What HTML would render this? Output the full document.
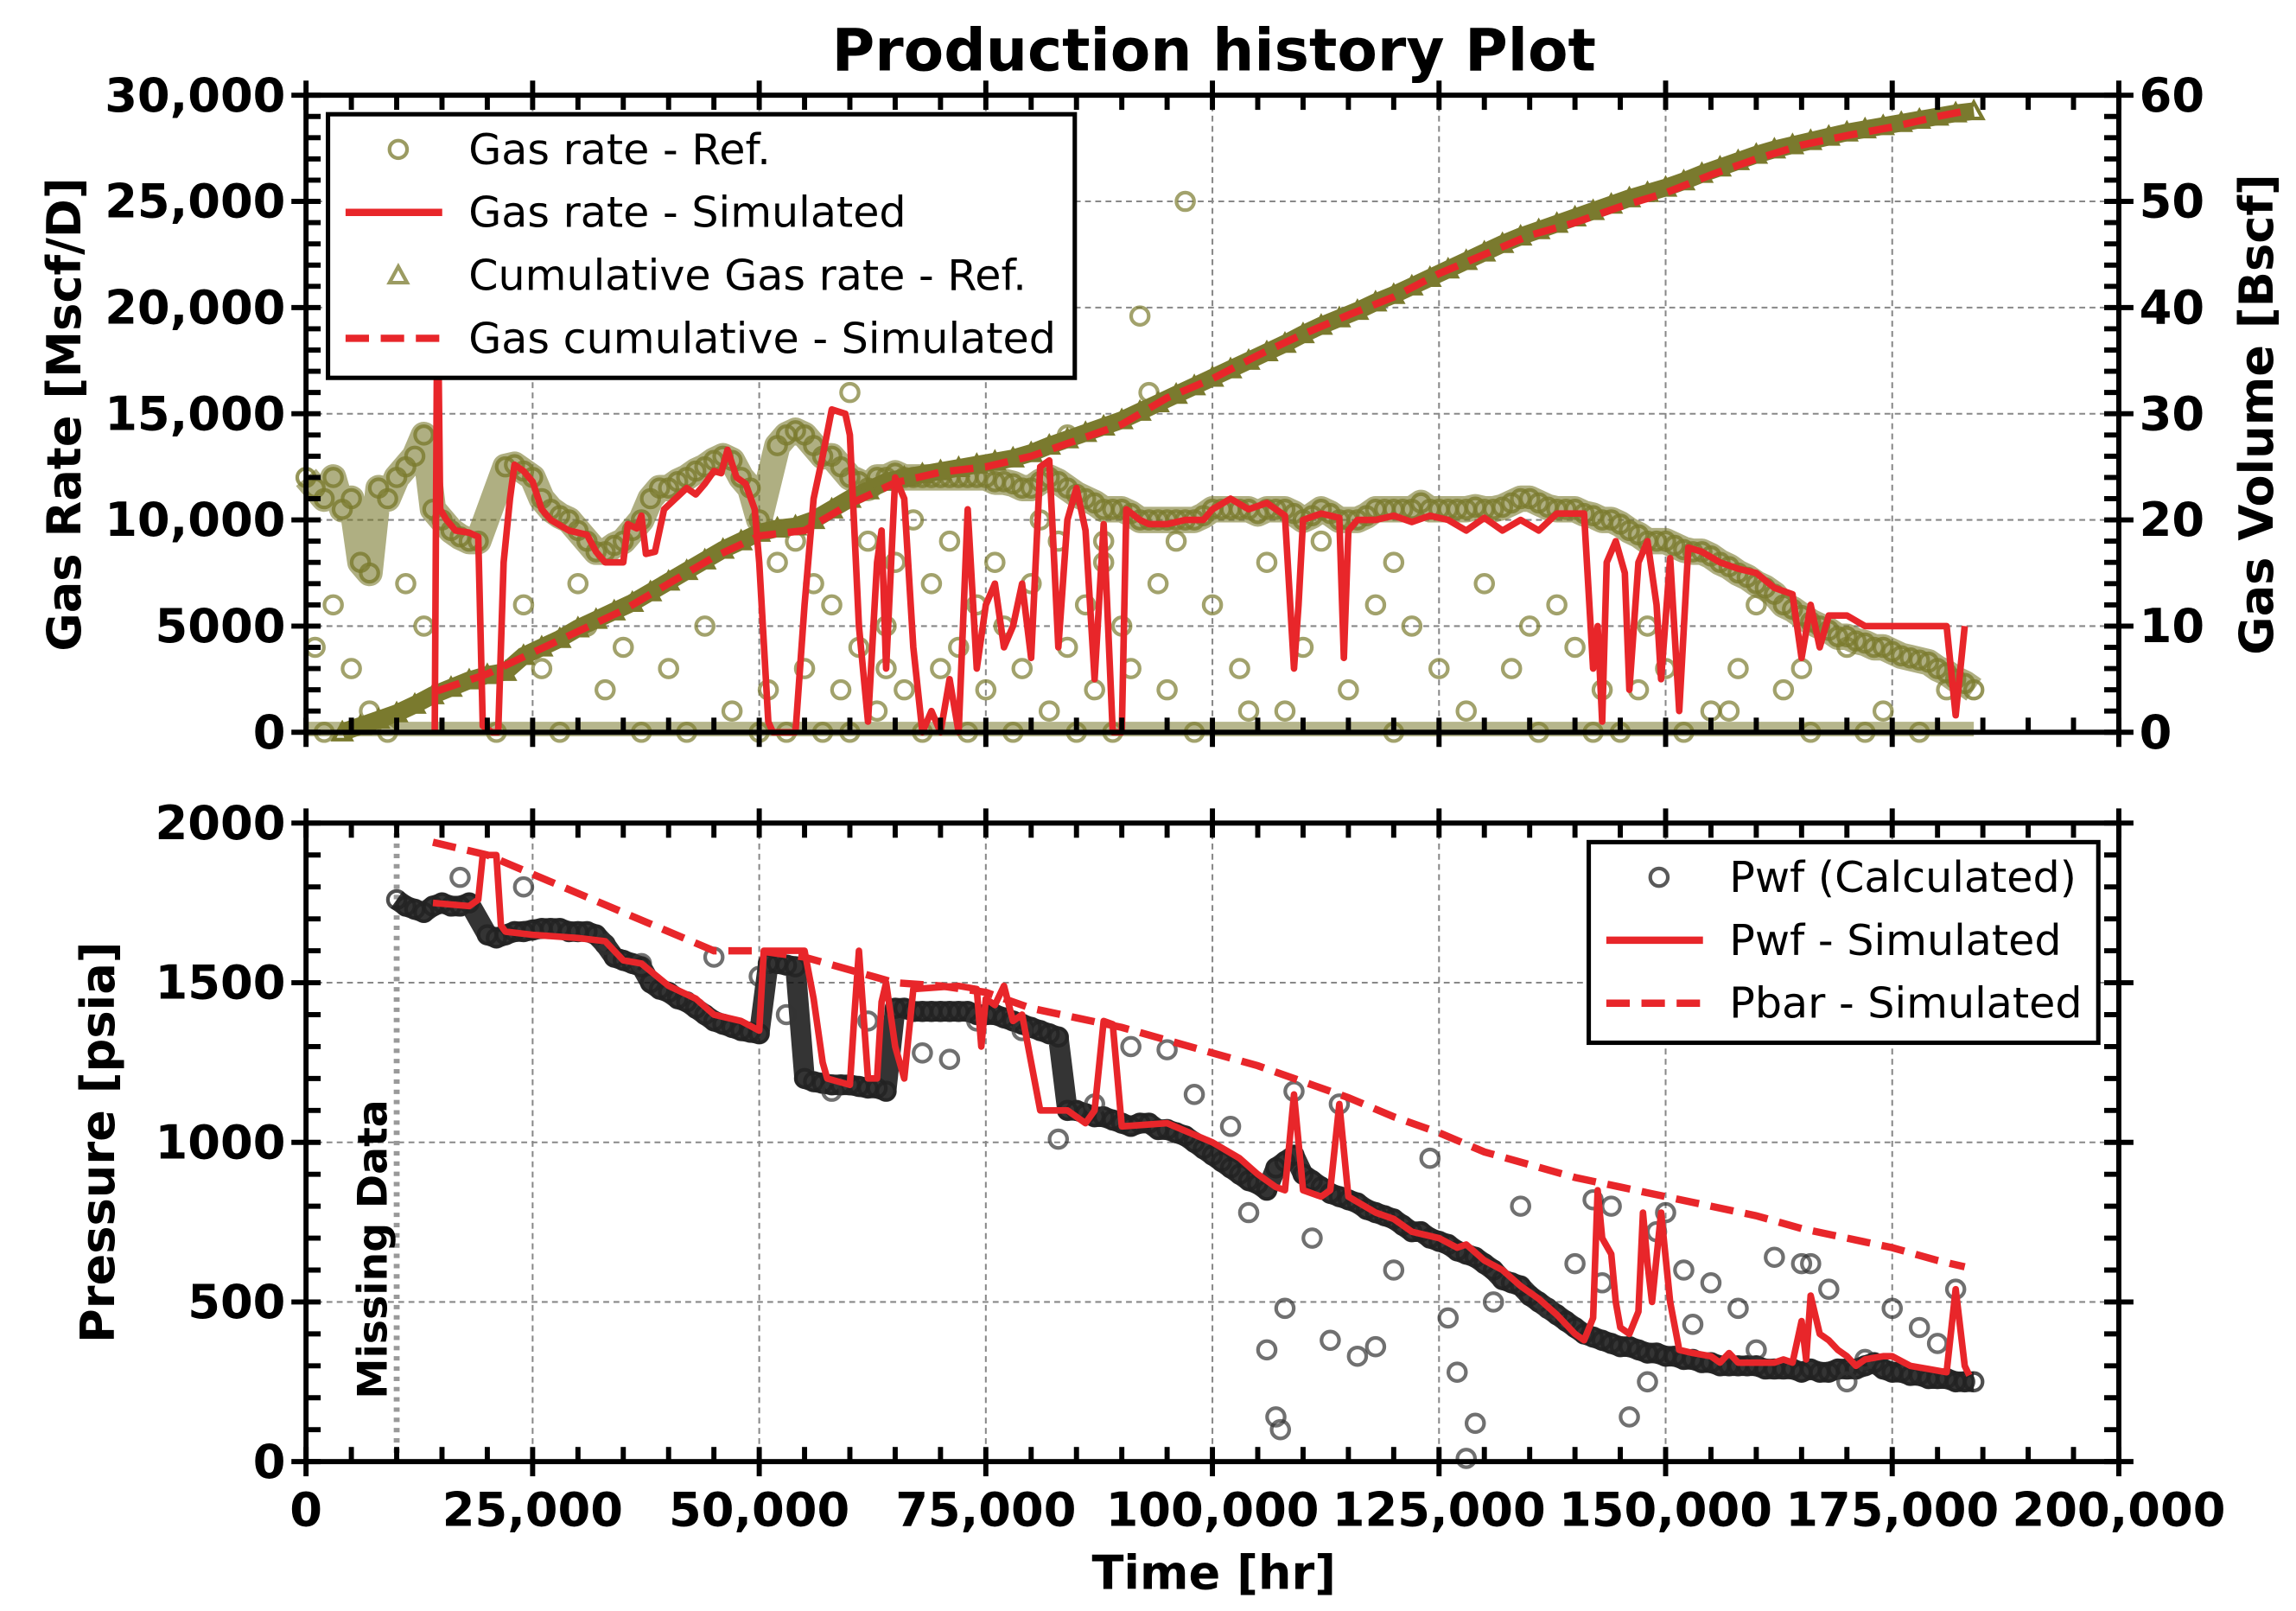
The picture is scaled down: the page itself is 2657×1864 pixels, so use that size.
<!DOCTYPE html>
<html><head><meta charset="utf-8"><style>
html,body{margin:0;padding:0;background:#fff}
svg{display:block}
text{font-family:"DejaVu Sans","Liberation Sans",sans-serif}
</style></head><body>
<svg id="chart" width="2657" height="1864" viewBox="0 0 1568 1100" xmlns="http://www.w3.org/2000/svg">
<g id="g"></g>
</svg>
<script>
// ---- data (time in thousand hr) ----
const gasSimT=[14.2,14.5,14.8,15.5,16.5,18,19,19.5,20.5,21.2,21.8,22.5,23,24,25,26,27,29,31,32,33,35,35.5,36.5,37,37.5,38.5,39.5,40.5,42,43,44,45,45.8,46.5,47.5,48.5,49.5,50,51,51.5,54,55,56,57,58,59.5,60,61,62,63,63.5,64,65,66,67,68,69,70,71,72,73,74,75,76,77,78,79,80,81,82,83,84,85,86,87,88,89,90,90.5,92,93,95,97,99,100,102,104,106,107,108,109,109.5,110,112,114,114.5,115,116,118,120,122,124,126,128,130,132,134,136,138,140,141,142,142.5,143,143.5,144.5,145.5,146,147,148,149,149.5,150.5,151.5,152.5,154,156,158,160,162,164,165,166,167,168,170,172,174,176,178,181,182,183];
const gasSimQ=[0,22,10.5,10,9.5,9.4,9.2,0.3,0,0,8,11,12.6,12.3,11.8,10.5,10,9.5,9.3,8.5,8,8,9.8,9.6,10.2,8.4,8.5,10.5,10.9,11.5,11.2,11.7,12.3,12.2,13.3,12,11.7,10.5,8,0.5,0,0,6,11,13,15.2,15,14,5,0.5,8,9.5,3,12,11,4,0,1,0,2.5,0,10.5,3,6,7,4,5,7,3.5,12.5,12.8,4,10,11.5,9.5,2.5,9.8,0,0,10.5,10,9.8,9.8,10,10,10.5,11,10.5,10.8,10.5,10.2,3,6,10,10.3,10.1,3.5,9.5,10,10,10.2,9.9,10.2,10,9.5,10.1,9.5,10,9.5,10.3,10.3,10.3,3,5,0.5,8,9,7.5,2,8,9,6,2.5,8.2,1,8.7,8.5,8,7.7,7.5,6.8,6.5,3.5,6,4,5.5,5.5,5,5,5,5,5,0.8,5];
const gasRefT=[0,1,2,3,4,5,6,7,8,9,10,11,12,13,14,15,16,17,18,19,22,23,24,25,26,27,28,29,30,31,32,33,34,35,36,37,38,39,40,41,42,43,44,45,46,47,48,49,50,52,53,54,55,56,57,58,59,60,61,62,63,64,65,66,67,68,69,70,71,72,73,74,75,76,77,78,79,80,81,82,83,84,85,86,87,88,89,90,91,92,93,94,95,96,97,98,99,100,101,102,103,104,105,106,107,108,109,110,111,112,113,114,115,116,117,118,119,120,121,122,123,124,125,126,127,128,129,130,131,132,133,134,135,136,137,138,139,140,141,142,143,144,145,146,147,148,149,150,151,152,153,154,155,156,157,158,159,160,161,162,163,164,165,166,167,168,169,170,171,172,173,174,175,176,177,178,179,180,181,182,183,184];
const gasRefQ=[12,11.5,11,12,10.5,11,8,7.5,11.5,11,12,12.5,13,14,10.5,10,9.5,9.2,9,9,12.5,12.6,12.3,12,11,10.5,10.2,10,9.5,9,8.5,8.5,8.8,9,9.5,10,11,11.5,11.5,11.8,12,12.3,12.5,12.8,13,12.8,12,11.5,10,13.5,14,14.2,14,13.5,13,13,12.5,12,11.8,11.5,12,12,12.2,12,12,12,12,12,12,12,12,12,12,11.8,11.8,11.7,11.5,11.5,11.8,12,11.8,11.5,11.2,11,10.8,10.5,10.5,10.5,10.3,10,10,10,10,10,10,10,10.2,10.5,10.5,10.5,10.5,10.5,10.3,10.5,10.5,10.5,10.3,10,10.2,10.5,10.3,10,10,10,10.2,10.5,10.5,10.5,10.5,10.5,10.8,10.5,10.5,10.5,10.5,10.5,10.6,10.5,10.5,10.6,10.8,11,11,10.8,10.6,10.5,10.5,10.5,10.3,10.2,10,10,9.8,9.5,9.3,9,9,9,8.8,8.6,8.5,8.5,8.3,8,7.8,7.5,7.3,7,6.8,6.5,6,5.8,5.5,5.2,5,4.8,4.5,4.5,4.3,4.2,4,4,3.8,3.6,3.5,3.4,3.3,3,2.8,2.5,2.3,2];
const gasOutT=[1,2,3,5,7,9,11,13,21,24,26,28,31,33,35,37,40,42,44,47,50,51,52,53,54,55,56,57,58,59,60,61,62,63,64,65,66,67,68,69,70,71,72,73,74,75,76,77,78,79,80,81,82,83,84,85,86,87,88,89,90,91,92,94,95,96,98,100,103,106,108,110,112,115,118,120,122,125,128,130,133,136,138,140,143,145,148,150,152,155,158,160,163,166,170,174,178,181,30,60,70,81,84,88,93,97,64,104,120,135,142,147,157,165,172];
const gasOutQ=[4,0,6,3,1,0,7,5,0,6,3,0,5,2,4,0,3,0,5,1,0,2,8,0,9,3,7,0,6,2,0,4,9,1,5,8,2,10,0,7,3,9,4,0,6,2,8,5,0,3,7,10,1,9,4,0,6,2,8,0,5,3,19.6,7,2,9,0,6,3,8,1,4,9,2,6,0,5,3,1,7,3,0,6,4,2,0,5,3,0,1,3,6,2,0,4,1,0,2,7,16,25.8,26,14,9,16,25,3,1,8,5,0,2,1,3,0];
const cumSimT=[14.5,20,25,30,35,40,45,50,55,60,65,70,75,80,85,90,95,100,105,110,115,120,125,130,135,140,145,150,155,160,165,170,175,180,183];
const cumSimV=[3.9,5.5,7.5,9.5,11.5,14,16.5,18.5,19,21.5,23.5,24.5,25,26,27.5,29,31.5,33.3,35.5,37.5,39.3,41,43.2,45,46.8,48,49.5,50.8,52.5,54,55.3,56.2,57,58,58.5];
const cumRefT=[4,6,8,10,12,14,16,18,20,22,24,26,28,30,32,34,36,38,40,42,44,46,48,50,52,54,56,58,60,62,64,66,68,70,72,74,76,78,80,82,84,86,88,90,92,94,96,98,100,102,104,106,108,110,112,114,116,118,120,122,124,126,128,130,132,134,136,138,140,142,144,146,148,150,152,154,156,158,160,162,164,166,168,170,172,174,176,178,180,182,184];
const cumRefV=[0,0.6,1.2,1.8,2.6,3.5,4.2,4.9,5.4,5.7,7.2,8,8.8,9.8,10.6,11.4,12.2,13.2,14.2,15.2,16.2,17.2,18,18.8,19.2,19.4,20,21,22,22.8,23.6,24,24.3,24.6,24.9,25.2,25.5,25.8,26.3,27,27.6,28.2,28.8,29.4,30.2,31,31.8,32.6,33.4,34.2,35,35.8,36.6,37.5,38.3,39,39.7,40.5,41.2,42,42.8,43.6,44.4,45.2,46,46.7,47.3,47.9,48.5,49.1,49.7,50.3,50.8,51.3,51.9,52.6,53.2,53.8,54.4,54.9,55.3,55.7,56.1,56.5,56.8,57.1,57.4,57.7,58,58.3,58.5];
const pwfSimT=[14,18,19,19.5,21,21.5,22,25,30,33,35,37,40,43,45,48,50,50.5,55,56,57,57.5,60,60.5,61,62,63,63.5,64,65,66,67,72,74,74.5,75,76,77,78,79,80,81,84,86,87,88,89,90,95,100,103,105,107,108,109,110,112,113,114,115,118,120,122,125,127,128,130,132,134,136,138,140,141,142,142.5,143,144,144.5,145,146,147,147.5,148,148.5,149.5,150.5,151.5,153,155,156,157,158,160,162,163,164,165,165.5,166,167,168,169,170,171,172,174,175,177,179,181,182,183,183.5];
const pwfSimP=[1750,1740,1760,1900,1900,1680,1660,1650,1640,1630,1570,1560,1490,1450,1400,1380,1350,1600,1600,1450,1250,1200,1180,1400,1600,1200,1200,1440,1500,1300,1200,1480,1490,1480,1300,1450,1430,1490,1380,1400,1250,1100,1100,1060,1100,1380,1370,1050,1060,1000,950,900,860,850,1150,850,830,850,1120,830,780,760,720,700,670,680,630,600,550,510,460,400,380,450,850,700,650,500,420,400,470,780,620,500,780,500,350,340,330,310,340,310,310,310,320,310,440,320,520,400,380,350,330,300,320,330,330,300,290,280,540,300,270];
const pbarT=[14,20,25,30,35,40,45,50,55,60,65,70,75,80,85,90,95,100,105,110,115,120,125,130,135,140,145,150,155,160,165,170,175,180,183];
const pbarP=[1940,1900,1840,1780,1720,1660,1600,1600,1580,1540,1500,1490,1470,1420,1390,1360,1320,1280,1240,1190,1140,1080,1030,970,930,890,860,830,800,770,730,700,670,630,610];
const pwfCalcT=[10,11,12,13,14,15,16,17,18,20,21,22,23,24,25,26,27,28,29,30,31,32,33,34,35,36,37,38,39,40,41,42,43,44,45,46,47,48,49,50,51,52,53,54,55,56,57,58,59,60,61,62,63,64,65,66,67,68,69,70,71,72,73,74,75,76,77,78,79,80,81,82,83,84,85,86,87,88,89,90,91,92,93,94,95,96,97,98,99,100,101,102,103,104,105,106,107,108,109,110,111,112,113,114,115,116,117,118,119,120,121,122,123,124,125,126,127,128,129,130,131,132,133,134,135,136,137,138,139,140,141,142,143,144,145,146,147,148,149,150,151,152,153,154,155,156,157,158,159,160,161,162,163,164,165,166,167,168,169,170,171,172,173,174,175,176,177,178,179,180,181,182,183,184];
const pwfCalcP=[1760,1740,1730,1720,1740,1750,1740,1740,1750,1650,1640,1650,1660,1660,1665,1670,1670,1670,1660,1660,1660,1650,1620,1580,1570,1560,1550,1500,1480,1470,1450,1440,1420,1400,1380,1370,1360,1350,1345,1340,1560,1560,1555,1550,1200,1190,1185,1180,1180,1180,1175,1170,1170,1160,1420,1420,1410,1410,1410,1410,1410,1410,1410,1400,1400,1400,1390,1380,1370,1360,1350,1340,1330,1100,1100,1090,1080,1080,1070,1060,1050,1060,1060,1040,1040,1030,1020,1000,980,960,940,920,900,880,870,850,920,940,960,900,880,860,840,830,820,810,790,780,770,760,740,720,720,700,690,680,660,650,640,620,600,570,560,550,520,500,480,460,440,420,400,390,380,370,360,360,350,340,340,330,330,320,320,310,310,300,300,300,300,300,290,290,290,290,280,290,280,280,290,290,290,300,310,290,280,280,270,270,260,260,260,250,250,250,260];
const pwfOutT=[17,24,33,37,45,50,53,58,62,68,71,74,79,83,87,91,95,98,102,104,106,107,107.5,108,109,111,113,114,116,118,120,124,126,127,128,129,131,134,137,140,142,143,144,146,148,149,150,152,153,155,158,160,162,165,166,168,170,172,175,178,180,182];
const pwfOutP=[1830,1800,1620,1560,1580,1520,1400,1160,1380,1280,1260,1380,1350,1010,1120,1300,1290,1150,1050,780,350,140,100,480,1160,700,380,1120,330,360,600,950,450,280,10,120,500,800,480,620,820,560,800,140,250,720,780,600,430,560,480,350,640,620,620,540,250,320,480,420,370,540];

// ---- helpers ----
const NS="http://www.w3.org/2000/svg";
const G=document.getElementById('g');
function el(tag,attrs,parent){const e=document.createElementNS(NS,tag);for(const k in attrs)e.setAttribute(k,attrs[k]);(parent||G).appendChild(e);return e;}
const X0=209,X1=1447, T1=65,T2=500, B1=562,B2=998;
const xs=t=>X0+t/200*(X1-X0);
const yq=q=>T2-q/30*(T2-T1);
const yv=v=>T2-v/60*(T2-T1);
const yp=p=>B2-p/2000*(B2-B1);
const OLIVE='#7a7a2e', RED='#e8262a';

let t=el('text',{x:829,y:48,'text-anchor':'middle','font-size':40,'font-weight':'bold'});t.textContent='Production history Plot';



function grid(y1,y2,yt){
  for(let v=25;v<200;v+=25){el('line',{x1:xs(v),x2:xs(v),y1:y1,y2:y2,stroke:'#888','stroke-width':1.2,'stroke-dasharray':'4,3'});}
  yt.forEach(y=>el('line',{x1:X0,x2:X1,y1:y,y2:y,stroke:'#888','stroke-width':1.2,'stroke-dasharray':'4,3'}));
}
grid(T1,T2,[1,2,3,4,5].map(k=>yq(k*5)));
grid(B1,B2,[1,2,3].map(k=>yp(k*500)));

// top panel scatter (gas rate ref)
const topG=el('g',{});


el('polyline',{points:gasRefT.map((v,i)=>xs(v)+','+yq(gasRefQ[i])).join(' '),fill:'none',stroke:OLIVE,'stroke-width':18,'stroke-opacity':0.6,'stroke-linejoin':'round'},topG);
gasRefT.forEach((v,i)=>{const c=el('circle',{cx:xs(v),cy:yq(gasRefQ[i]),r:6,fill:'none',stroke:OLIVE,'stroke-width':2.5,'stroke-opacity':0.8},topG);
});
gasOutT.forEach((v,i)=>{const c=el('circle',{cx:xs(v),cy:yq(gasOutQ[i]),r:6,fill:'none',stroke:OLIVE,'stroke-width':2.5,'stroke-opacity':0.7},topG);
});
el('line',{x1:xs(0),x2:xs(184),y1:yq(0.15),y2:yq(0.15),stroke:OLIVE,'stroke-width':10,'stroke-opacity':0.55},topG);

// cumulative ref triangles
const cg=el('g',{});


el('polyline',{points:cumRefT.map((v,i)=>xs(v)+','+yv(cumRefV[i])).join(' '),fill:'none',stroke:OLIVE,'stroke-width':12},cg);
cumRefT.forEach((v,i)=>{const x=xs(v),y=yv(cumRefV[i]);const p=el('polygon',{points:`${x},${y-6} ${x-6},${y+5} ${x+6},${y+5}`,fill:'none',stroke:OLIVE,'stroke-width':2.5},cg);
});

let l=el('polyline',{points:gasSimT.map((v,i)=>xs(v)+','+yq(gasSimQ[i])).join(' '),fill:'none',stroke:RED,'stroke-width':4.5,'stroke-linejoin':'round'});

l=el('polyline',{points:cumSimT.map((v,i)=>xs(v)+','+yv(cumSimV[i])).join(' '),fill:'none',stroke:RED,'stroke-width':5,'stroke-dasharray':'16,8'});


// bottom panel
const mg=el('line',{x1:xs(10),x2:xs(10),y1:B1,y2:B2,stroke:'#999','stroke-width':4,'stroke-dasharray':'3,4'});

t=el('text',{x:0,y:0,transform:`translate(264,853) rotate(-90)`,'text-anchor':'middle','font-size':28,'font-weight':'bold'});t.textContent='Missing Data';


const pg=el('g',{});


el('polyline',{points:pwfCalcT.map((v,i)=>xs(v)+','+yp(pwfCalcP[i])).join(' '),fill:'none',stroke:'#111','stroke-width':14,'stroke-opacity':0.85,'stroke-linejoin':'round'},pg);
pwfCalcT.forEach((v,i)=>{const c=el('circle',{cx:xs(v),cy:yp(pwfCalcP[i]),r:6,fill:'none',stroke:'#222','stroke-width':2.5,'stroke-opacity':0.8},pg);
});
pwfOutT.forEach((v,i)=>{const c=el('circle',{cx:xs(v),cy:yp(pwfOutP[i]),r:6,fill:'none',stroke:'#333','stroke-width':2.5,'stroke-opacity':0.7},pg);
});
l=el('polyline',{points:pwfSimT.map((v,i)=>xs(v)+','+yp(pwfSimP[i])).join(' '),fill:'none',stroke:RED,'stroke-width':4.5,'stroke-linejoin':'round'});

l=el('polyline',{points:pbarT.map((v,i)=>xs(v)+','+yp(pbarP[i])).join(' '),fill:'none',stroke:RED,'stroke-width':5,'stroke-dasharray':'16,8'});


// axes frames and ticks
function frame(y1,y2,name){const r=el('rect',{x:X0,y:y1,width:X1-X0,height:y2-y1,fill:'none',stroke:'#000','stroke-width':3.5});

for(let v=0;v<=200;v+=5){const x=xs(v),maj=v%25===0;
 el('line',{x1:x,x2:x,y1:y1-(maj?10:0),y2:y1+10,stroke:'#000','stroke-width':3.5});
 el('line',{x1:x,x2:x,y1:y2-10,y2:y2+(maj?10:0),stroke:'#000','stroke-width':3.5});}}
frame(T1,T2,'top-axes');frame(B1,B2,'bottom-axes');
function yticks(n,step,fy,side,majEvery){for(let k=0;k<=n;k++){const y=fy(k*step),maj=k%majEvery===0;
 if(side<0) el('line',{x1:X0-(maj?10:0),x2:X0+10,y1:y,y2:y,stroke:'#000','stroke-width':3.5});
 else el('line',{x1:X1-10,x2:X1+(maj?10:0),y1:y,y2:y,stroke:'#000','stroke-width':3.5});}}
yticks(30,1,yq,-1,5);yticks(30,2,yv,1,5);yticks(20,100,yp,-1,5);yticks(20,100,yp,1,5);

// tick labels
const qLabels=['0','5000','10,000','15,000','20,000','25,000','30,000'];
const vLabels=['0','10','20','30','40','50','60'];
const pLabels=['0','500','1000','1500','2000'];
const xLabels=['0','25,000','50,000','75,000','100,000','125,000','150,000','175,000','200,000'];
qLabels.forEach((s,i)=>{const e=el('text',{x:X0-14,y:yq(i*5)+11,'text-anchor':'end','font-size':32,'font-weight':'bold'});e.textContent=s;
});
vLabels.forEach((s,i)=>{const e=el('text',{x:X1+14,y:yv(i*10)+11,'text-anchor':'start','font-size':32,'font-weight':'bold'});e.textContent=s;
});
pLabels.forEach((s,i)=>{const e=el('text',{x:X0-14,y:yp(i*500)+11,'text-anchor':'end','font-size':32,'font-weight':'bold'});e.textContent=s;
});
xLabels.forEach((s,i)=>{const e=el('text',{x:xs(i*25),y:B2+44,'text-anchor':'middle','font-size':32,'font-weight':'bold'});e.textContent=s;
});

// axis titles
t=el('text',{x:0,y:0,transform:'translate(55,283) rotate(-90)','text-anchor':'middle','font-size':32,'font-weight':'bold'});t.textContent='Gas Rate [Mscf/D]';

t=el('text',{x:0,y:0,transform:'translate(1552,283) rotate(-90)','text-anchor':'middle','font-size':32,'font-weight':'bold'});t.textContent='Gas Volume [Bscf]';

t=el('text',{x:0,y:0,transform:'translate(78,780) rotate(-90)','text-anchor':'middle','font-size':32,'font-weight':'bold'});t.textContent='Pressure [psia]';

t=el('text',{x:829,y:1085,'text-anchor':'middle','font-size':32,'font-weight':'bold'});t.textContent='Time [hr]';


// legends
function legend(x,y,w,h,items,name){const g=el('g',{});
 
 el('rect',{x:x,y:y,width:w,height:h,fill:'#fff',stroke:'#000','stroke-width':3},g);
 items.forEach((it,i)=>{const cy=y+24+i*43,mx=x+48;
  if(it.k==='c')el('circle',{cx:mx,cy:cy,r:6,fill:'none',stroke:it.c,'stroke-width':2.5,'stroke-opacity':0.75},g);
  if(it.k==='t')el('polygon',{points:`${mx},${cy-6} ${mx-6},${cy+5} ${mx+6},${cy+5}`,fill:'none',stroke:it.c,'stroke-width':2.5,'stroke-opacity':0.75},g);
  if(it.k==='l')el('line',{x1:x+12,x2:x+78,y1:cy,y2:cy,stroke:it.c,'stroke-width':5},g);
  if(it.k==='d')el('line',{x1:x+12,x2:x+78,y1:cy,y2:cy,stroke:it.c,'stroke-width':5,'stroke-dasharray':'16,8'},g);
  const e=el('text',{x:x+96,y:cy+10,'font-size':29},g);e.textContent=it.s;
  });}
legend(224,78,510,180,[{k:'c',c:OLIVE,s:'Gas rate - Ref.'},{k:'l',c:RED,s:'Gas rate - Simulated'},{k:'t',c:OLIVE,s:'Cumulative Gas rate - Ref.'},{k:'d',c:RED,s:'Gas cumulative - Simulated'}],'top-legend');
legend(1085,575,348,137,[{k:'c',c:'#222',s:'Pwf (Calculated)'},{k:'l',c:RED,s:'Pwf - Simulated'},{k:'d',c:RED,s:'Pbar - Simulated'}],'bottom-legend');
</script>
</body></html>
